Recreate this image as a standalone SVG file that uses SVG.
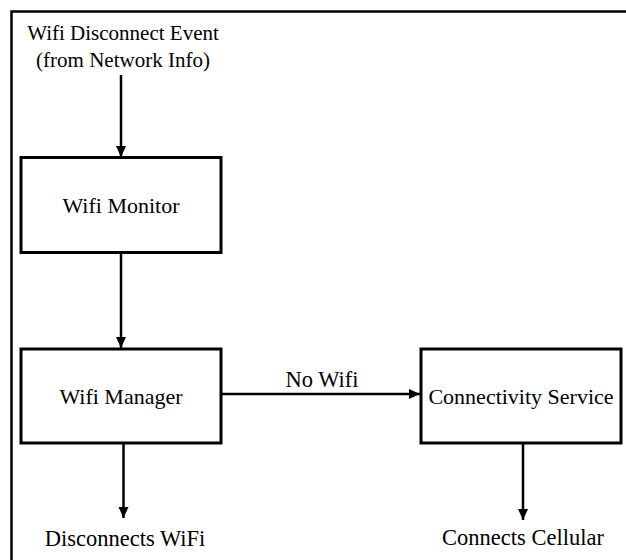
<svg xmlns="http://www.w3.org/2000/svg" width="626" height="560" viewBox="0 0 626 560">
  <style>
    .box { fill: #ffffff; stroke: #000000; stroke-width: 3; }
    .frame { fill: none; stroke: #000000; stroke-width: 2.5; }
    .edge { fill: none; stroke: #000000; stroke-width: 2.5; marker-end: url(#arrow); }
    text { font-family: "Liberation Serif", "Times New Roman", serif; font-size: 22px; fill: #000000; text-anchor: middle; }
    .top { font-size: 21px; }
    .out { font-size: 22.5px; }
  </style>
  <defs>
    <marker id="arrow" markerUnits="userSpaceOnUse" markerWidth="12" markerHeight="12" viewBox="0 0 12 12" refX="11" refY="6" orient="auto">
      <path d="M0,1 L11,6 L0,11 Z" fill="#000000"/>
    </marker>
  </defs>
  <rect width="626" height="560" fill="#ffffff"/>

  <!-- outer frame: only the top and left sides fall inside the canvas -->
  <path class="frame" d="M11.5,560 L11.5,11.5 L626,11.5"/>

  <g id="event-source">
    <text class="top" x="123" y="40">Wifi Disconnect Event</text>
    <text class="top" x="123" y="67">(from Network Info)</text>
  </g>

  <g id="wifi-monitor">
    <rect class="box" x="21" y="157.5" width="200" height="95"/>
    <text x="121" y="213">Wifi Monitor</text>
  </g>

  <g id="wifi-manager">
    <rect class="box" x="21" y="349" width="200" height="94"/>
    <text x="121" y="404">Wifi Manager</text>
  </g>

  <g id="connectivity-service">
    <rect class="box" x="421" y="349" width="200" height="94"/>
    <text x="521" y="404">Connectivity Service</text>
  </g>

  <g id="disconnects-wifi">
    <text class="out" x="125" y="546">Disconnects WiFi</text>
  </g>

  <g id="connects-cellular">
    <text class="out" x="523" y="545">Connects Cellular</text>
  </g>

  <g id="connectors">
    <path class="edge" d="M121,75 L121,157"/>
    <path class="edge" d="M121,252 L121,348"/>
    <path class="edge" d="M221,394 L420,394"/>
    <text class="out" x="322" y="387">No Wifi</text>
    <path class="edge" d="M123.5,443 L123.5,518"/>
    <path class="edge" d="M523,443 L523,520"/>
  </g>
</svg>
